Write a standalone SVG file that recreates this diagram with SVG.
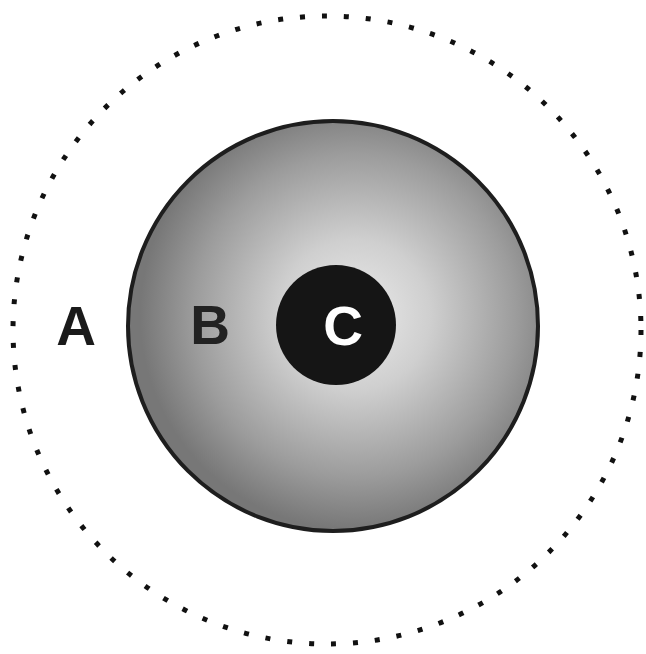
<svg xmlns="http://www.w3.org/2000/svg" width="646" height="654" viewBox="0 0 646 654">
  <defs>
    <radialGradient id="grayGrad" cx="355" cy="315" r="215" gradientUnits="userSpaceOnUse">
      <stop offset="0" stop-color="#ebebeb"/>
      <stop offset="0.35" stop-color="#cfcfcf"/>
      <stop offset="0.75" stop-color="#9c9c9c"/>
      <stop offset="1" stop-color="#777777"/>
    </radialGradient>
  </defs>
  <style>
    .lbl { font-family: "Liberation Sans", Arial, sans-serif; font-weight: bold; font-size: 55px; text-anchor: middle; }
  </style>
  <rect width="646" height="654" fill="#ffffff"/>
  <g id="A">
    <circle cx="327" cy="330" r="314" fill="none" stroke="#111" stroke-width="5" stroke-dasharray="5 17"/>
    <text class="lbl" x="76" y="345" fill="#1a1a1a">A</text>
  </g>
  <g id="B">
    <circle cx="333" cy="326" r="205" fill="url(#grayGrad)" stroke="#1e1e1e" stroke-width="4"/>
    <text class="lbl" x="210" y="344" fill="#222">B</text>
  </g>
  <g id="C">
    <circle cx="336" cy="325" r="60" fill="#151515"/>
    <text class="lbl" x="343" y="345" fill="#ffffff">C</text>
  </g>
  <g id="connectors"/>
</svg>
